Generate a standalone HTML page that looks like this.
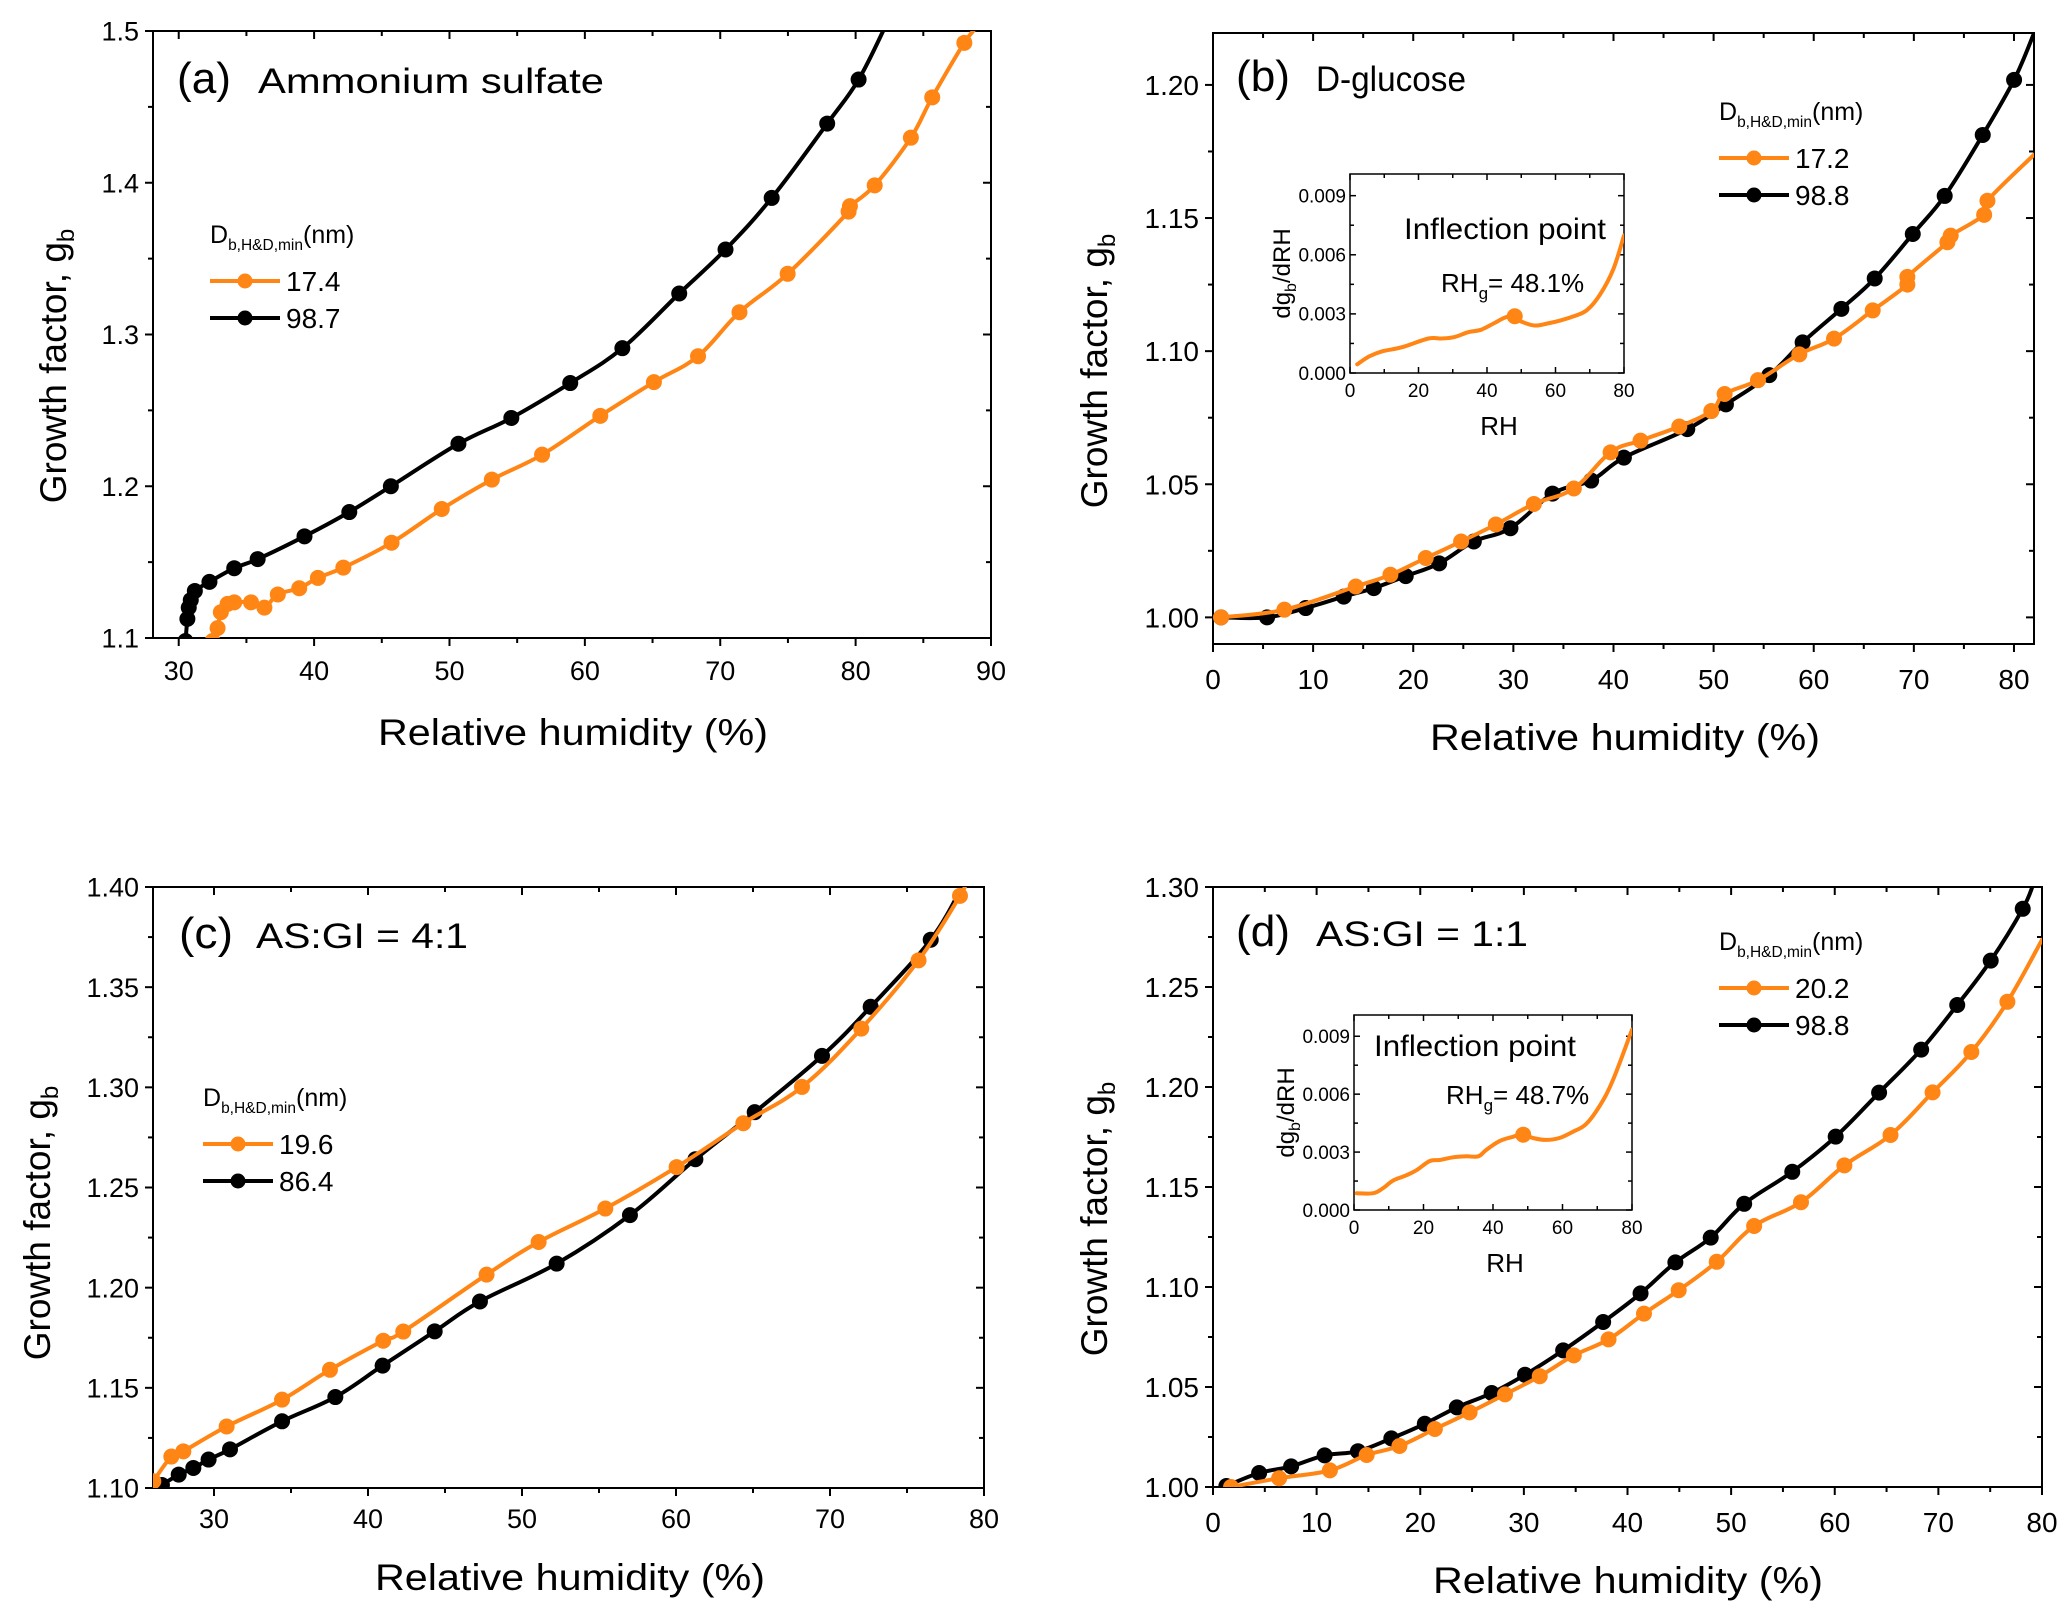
<!DOCTYPE html>
<html><head><meta charset="utf-8">
<style>
html,body{margin:0;padding:0;background:#fff;}
svg{display:block;font-family:"Liberation Sans",Arial,sans-serif;}
</style></head>
<body>
<svg id="fig" width="2067" height="1621" viewBox="0 0 2067 1621" xmlns="http://www.w3.org/2000/svg"></svg>
<script>
// ---------- DATA ----------
// Panel (a) Ammonium sulfate
const aBlackX=[30.5,30.64,30.74,30.89,31.19,32.27,34.10,35.83,39.29,42.60,45.67,50.66,54.57,58.92,62.77,66.97,70.39,73.80,77.90,80.22,82.3];
const aBlackY=[1.098,1.1126,1.120,1.125,1.131,1.137,1.146,1.152,1.167,1.183,1.200,1.228,1.245,1.268,1.291,1.327,1.356,1.390,1.439,1.468,1.505];
const aOrangeX=[32.5,32.87,33.11,33.61,34.10,35.34,36.33,37.32,38.90,40.28,42.16,45.72,49.43,53.13,56.84,61.14,65.10,68.36,71.42,74.98,79.48,79.58,81.41,84.08,85.66,88.03,89.2];
const aOrangeY=[1.098,1.1065,1.117,1.1225,1.1235,1.1235,1.120,1.1287,1.1328,1.1396,1.1464,1.1628,1.185,1.2044,1.2208,1.2464,1.2686,1.2857,1.3147,1.340,1.381,1.3846,1.3983,1.4297,1.4563,1.4922,1.505];
// Panel (b) D-glucose
const bBlackX=[0.8,5.4,9.26,13.06,16.06,19.25,22.59,26.05,29.71,33.91,37.77,41.04,47.37,51.23,55.56,58.89,62.76,66.09,69.89,73.08,76.88,80.01,82.0];
const bBlackY=[1.000,1.000,1.0035,1.0078,1.011,1.0155,1.0203,1.0285,1.0335,1.0465,1.0514,1.060,1.0707,1.080,1.091,1.1033,1.1159,1.1273,1.144,1.1583,1.1812,1.2019,1.2194];
const bOrangeX=[0.8,7.13,14.26,17.72,21.25,24.78,28.25,32.05,36.04,39.71,42.7,46.57,49.77,51.1,54.43,58.56,62.03,65.89,69.35,69.35,73.35,73.68,77.02,77.35,82.0];
const bOrangeY=[1.000,1.0029,1.0116,1.016,1.0223,1.0285,1.0349,1.0426,1.0484,1.062,1.0664,1.0717,1.0775,1.0839,1.0891,1.0988,1.1047,1.1153,1.125,1.1279,1.1409,1.1434,1.1512,1.1565,1.1738];
const bInsetX=[2.1,5.6,9.4,15.2,22.9,26.8,30.6,34.5,38.3,42.2,45.1,47.4,49.9,53.8,57.6,61.5,65.3,69.2,73.0,76.9,80];
const bInsetY=[0.00044,0.00084,0.00110,0.00131,0.00175,0.00175,0.00183,0.00207,0.00220,0.00254,0.00280,0.00288,0.00262,0.00241,0.00251,0.00267,0.00288,0.00319,0.00398,0.00528,0.00698];
const bInflection=[48.1,0.00288];
// Panel (c) AS:GI = 4:1
const cBlackX=[26.1,26.62,27.71,28.66,29.65,31.04,34.42,37.88,40.95,44.33,47.27,52.25,57.01,61.26,65.11,69.48,72.64,76.54,78.7];
const cBlackY=[1.099,1.1015,1.1067,1.110,1.1142,1.1193,1.1333,1.1454,1.1611,1.1782,1.1931,1.212,1.2362,1.2641,1.2876,1.3157,1.3402,1.3737,1.402];
const cOrangeX=[26.06,27.23,28.01,30.82,34.42,37.53,40.99,42.29,47.7,51.08,55.41,60.04,64.37,68.18,72.03,75.75,78.44,78.8];
const cOrangeY=[1.1034,1.1157,1.1183,1.1307,1.1441,1.159,1.1735,1.1781,1.2065,1.2228,1.2395,1.2602,1.2821,1.3002,1.3293,1.3634,1.3956,1.402];
// Panel (d) AS:GI = 1:1
const dBlackX=[1.29,4.45,7.54,10.77,13.99,17.21,20.44,23.53,26.89,30.11,33.79,37.65,41.26,44.62,48.03,51.26,55.9,60.09,64.28,68.34,71.82,75.05,78.14,79.2];
const dBlackY=[1.0005,1.007,1.0103,1.0158,1.0179,1.0243,1.0316,1.0398,1.047,1.0561,1.0683,1.0825,1.0968,1.1123,1.1247,1.1416,1.1576,1.1752,1.1972,1.2187,1.241,1.2632,1.2891,1.302];
const dOrangeX=[1.74,6.38,11.28,14.83,17.99,21.41,24.76,28.18,31.53,34.82,38.17,41.59,44.94,48.61,52.22,56.74,60.93,65.38,69.44,73.18,76.66,80];
const dOrangeY=[1.000,1.0044,1.0083,1.016,1.0205,1.029,1.0373,1.0463,1.0554,1.0658,1.0738,1.0867,1.0984,1.1126,1.1305,1.1424,1.1608,1.1760,1.1973,1.2175,1.2426,1.2736];
const dInsetX=[0.77,5.55,8.42,11.29,15.12,17.99,21.82,24.69,28.52,32.34,35.79,38.09,41.91,45.74,48.61,51.48,55.31,59.14,62.97,66.79,70.62,74.45,80];
const dInsetY=[0.00087,0.00087,0.00114,0.00153,0.00180,0.00206,0.00254,0.00259,0.00273,0.00278,0.00278,0.00312,0.00357,0.00379,0.00392,0.00373,0.00363,0.00373,0.00405,0.00445,0.00537,0.00670,0.00934];
const dInflection=[48.7,0.0039];
// Legend labels & tick labels
const aLegend=["17.4","98.7"], bLegend=["17.2","98.8"], cLegend=["19.6","86.4"], dLegend=["20.2","98.8"];
const aXTicks=[30,40,50,60,70,80,90], aYTicks=["1.1","1.2","1.3","1.4","1.5"];
const bXTicks=[0,10,20,30,40,50,60,70,80], bYTicks=["1.00","1.05","1.10","1.15","1.20"];
const cXTicks=[30,40,50,60,70,80], cYTicks=["1.10","1.15","1.20","1.25","1.30","1.35","1.40"];
const dXTicks=[0,10,20,30,40,50,60,70,80], dYTicks=["1.00","1.05","1.10","1.15","1.20","1.25","1.30"];
const insetXTicks=[0,20,40,60,80], insetYTicks=["0.000","0.003","0.006","0.009"];

// ---------- DRAW ----------
const NS="http://www.w3.org/2000/svg";
const svg=document.getElementById('fig');
const ORANGE="#ff8514";
function mk(tag,attrs,parent){const e=document.createElementNS(NS,tag);for(const k in attrs)e.setAttribute(k,attrs[k]);(parent||svg).appendChild(e);return e;}
let clipN=0;

function smoothPath(pts){
  if(pts.length<3) return pts.map((p,i)=>(i?'L':'M')+p[0].toFixed(1)+' '+p[1].toFixed(1)).join(' ');
  let d='M'+pts[0][0].toFixed(1)+' '+pts[0][1].toFixed(1);
  const t=0.18;
  for(let i=0;i<pts.length-1;i++){
    const p0=pts[Math.max(0,i-1)],p1=pts[i],p2=pts[i+1],p3=pts[Math.min(pts.length-1,i+2)];
    const c1=[p1[0]+(p2[0]-p0[0])*t,p1[1]+(p2[1]-p0[1])*t];
    const c2=[p2[0]-(p3[0]-p1[0])*t,p2[1]-(p3[1]-p1[1])*t];
    d+=' C'+c1[0].toFixed(1)+' '+c1[1].toFixed(1)+' '+c2[0].toFixed(1)+' '+c2[1].toFixed(1)+' '+p2[0].toFixed(1)+' '+p2[1].toFixed(1);
  }
  return d;
}

function axes(p){
  const g=mk('g',{});
  
  
  const sx=v=>p.L+(v-p.x0)/(p.x1-p.x0)*(p.R-p.L);
  const sy=v=>p.B-(v-p.y0)/(p.y1-p.y0)*(p.B-p.T);
  const frame=mk('rect',{x:p.L,y:p.T,width:p.R-p.L,height:p.B-p.T,fill:'none',stroke:'#000','stroke-width':p.sw||2},g);
  
  
  const ML=p.tickLen||8, mL=p.minorLen||5, out=p.outward;
  for(let v=p.xStart; v<=p.x1+1e-9; v+=p.xMinor){
    const major=Math.abs(((v-p.xStart)/p.xMajor)-Math.round((v-p.xStart)/p.xMajor))<1e-6;
    const len=major?ML:mL, x=sx(v);
    if(out){mk('line',{x1:x,y1:p.B,x2:x,y2:p.B+len,stroke:'#000','stroke-width':2},g);}
    else{mk('line',{x1:x,y1:p.B,x2:x,y2:p.B-len,stroke:'#000','stroke-width':1.5},g);}
    mk('line',{x1:x,y1:p.T,x2:x,y2:p.T+len,stroke:'#000','stroke-width':out?2:1.5},g);
  }
  for(let v=p.yStart; v<=p.y1+1e-9; v+=p.yMinor){
    const major=Math.abs(((v-p.yStart)/p.yMajor)-Math.round((v-p.yStart)/p.yMajor))<1e-6;
    const len=major?ML:mL, y=sy(v);
    if(out){mk('line',{x1:p.L,y1:y,x2:p.L-len,y2:y,stroke:'#000','stroke-width':2},g);}
    else{mk('line',{x1:p.L,y1:y,x2:p.L+len,y2:y,stroke:'#000','stroke-width':1.5},g);}
    mk('line',{x1:p.R,y1:y,x2:p.R-len,y2:y,stroke:'#000','stroke-width':out?2:1.5},g);
  }
  p.xTicks.forEach(t=>{
    const tx=mk('text',{x:sx(+t),y:p.B+p.xLabOff,'font-size':p.tfs,'text-anchor':'middle'},g);
    tx.textContent=t;
    
    
  });
  p.yTicks.forEach(t=>{
    const ty=mk('text',{x:p.L-p.yLabOff,y:sy(+t)+p.tfs*0.36,'font-size':p.tfs,'text-anchor':'end'},g);
    ty.textContent=t;
    
    
  });
  clipN++;
  const cp=mk('clipPath',{id:'cp'+clipN},g);
  mk('rect',{x:p.L,y:p.T,width:p.R-p.L,height:p.B-p.T},cp);
  const plot=mk('g',{'clip-path':'url(#cp'+clipN+')'},g);
  
  
  return {g,plot,sx,sy};
}

function series(ax,xs,ys,color,name,r,lw,markers){
  const pts=xs.map((x,i)=>[ax.sx(x),ax.sy(ys[i])]);
  const path=mk('path',{d:smoothPath(pts),fill:'none',stroke:color,'stroke-width':lw,'stroke-linejoin':'round','stroke-linecap':'round'},ax.plot);
  
  
  if(markers){
    for(let i=0;i<xs.length-1;i++){
      const c=mk('circle',{cx:ax.sx(xs[i]),cy:ax.sy(ys[i]),r:r,fill:color},ax.plot);
      
      
    }
  }
}

function text(x,y,str,fs,opts){
  const t=mk('text',Object.assign({x:x,y:y,'font-size':fs},opts||{}));
  t.innerHTML=str;
  return t;
}

function legend(x,y,labels,fs){
  const g=mk('g',{});
  
  
  const t=mk('text',{x:x,y:y,'font-size':fs},g);
  t.innerHTML='D<tspan font-size="'+(fs*0.62)+'" dy="7">b,H&amp;D,min</tspan><tspan dy="-7">(nm)</tspan>';
  
  
  [ORANGE,'#000'].forEach((c,i)=>{
    const yy=y+38+i*37;
    const e=mk('g',{},g);
    
    
    mk('line',{x1:x,y1:yy,x2:x+70,y2:yy,stroke:c,'stroke-width':4},e);
    mk('circle',{cx:x+35,cy:yy,r:7.5,fill:c},e);
    const lt=mk('text',{x:x+76,y:yy+10,'font-size':fs+3},e);
    lt.textContent=labels[i];
  });
}

function titles(p,xc,xb,xLen,yx,yc,yLen,fs){
  const xt=text(xc,xb,'Relative humidity (%)',fs,{'text-anchor':'middle',textLength:xLen,lengthAdjust:'spacingAndGlyphs'});
  
  
  const yt=text(0,0,'Growth factor, g<tspan font-size="'+(fs*0.65)+'" dy="8">b</tspan>',fs,{'text-anchor':'middle',transform:'translate('+yx+','+yc+') rotate(-90)'});
  
  
}

function panelLabel(x,y,lab,w1,str,x2,w2){
  const a=text(x,y,lab,44,{textLength:w1,lengthAdjust:'spacingAndGlyphs'});
  
  
  const b=text(x2,y,str,35,{textLength:w2,lengthAdjust:'spacingAndGlyphs'});
  
  
}

function inset(L,R,T,B,xs,ys,infl,name,rhText,txtPos){
  const ax=axes({name:name,L:L,R:R,T:T,B:B,x0:0,x1:80,y0:0,y1:0.0101,xStart:0,xMajor:20,xMinor:10,yStart:0,yMajor:0.003,yMinor:0.0015,
    xTicks:insetXTicks,yTicks:insetYTicks,tfs:19,xLabOff:24,yLabOff:4,outward:false,tickLen:6,minorLen:4,sw:1.5});
  series(ax,xs,ys,ORANGE,name+'-curve',0,4,false);
  const c=mk('circle',{cx:ax.sx(infl[0]),cy:ax.sy(infl[1]),r:8,fill:ORANGE},ax.plot);
  
  
  const rh=text((L+R)/2+12,B+62,'RH',26,{'text-anchor':'middle'});
  
  
  const yl=text(0,0,'dg<tspan font-size="16" dy="6">b</tspan><tspan dy="-6">/dRH</tspan>',24,{'text-anchor':'middle',transform:'translate('+(L-60)+','+((T+B)/2)+') rotate(-90)'});
  
  
  const ip=text(txtPos[0],txtPos[1],'Inflection point',30,{textLength:202,lengthAdjust:'spacingAndGlyphs'});
  
  
  const rt=text(txtPos[2],txtPos[3],'RH<tspan font-size="17" dy="7">g</tspan><tspan dy="-7">= '+rhText+'</tspan>',26,{});
  
  
}

// Panel a
const A=axes({name:'panel-a',L:153,R:991,T:31,B:638,x0:28.1,x1:90,y0:1.1,y1:1.5,xStart:30,xMajor:10,xMinor:5,yStart:1.1,yMajor:0.1,yMinor:0.05,
  xTicks:aXTicks,yTicks:aYTicks,tfs:27,xLabOff:42,yLabOff:14,outward:true});
series(A,aBlackX,aBlackY,'#000','panel-a-98.7nm',8,4,true);
series(A,aOrangeX,aOrangeY,ORANGE,'panel-a-17.4nm',8,4,true);
titles(A,573,745,390,66,366,305,37);
panelLabel(177,93,'(a)',54,'Ammonium sulfate',258,346);
legend(210,243,aLegend,25);

// Panel b
const Bp=axes({name:'panel-b',L:1213,R:2034,T:33,B:644,x0:0,x1:82,y0:0.99,y1:1.2195,xStart:0,xMajor:10,xMinor:5,yStart:1.0,yMajor:0.05,yMinor:0.025,
  xTicks:bXTicks,yTicks:bYTicks,tfs:28,xLabOff:45,yLabOff:14,outward:true});
series(Bp,bBlackX,bBlackY,'#000','panel-b-98.8nm',8,4,true);
series(Bp,bOrangeX,bOrangeY,ORANGE,'panel-b-17.2nm',8,4,true);
titles(Bp,1625,750,390,1107,371,305,37);
panelLabel(1236,91,'(b)',54,'D-glucose',1316,150);
legend(1719,120,bLegend,25);
inset(1350,1624,174,373,bInsetX,bInsetY,bInflection,'panel-b-inset','48.1%',[1404,239,1441,292]);

// Panel c
const Cp=axes({name:'panel-c',L:153,R:984,T:887,B:1488,x0:26.04,x1:80,y0:1.1,y1:1.4,xStart:30,xMajor:10,xMinor:5,yStart:1.1,yMajor:0.05,yMinor:0.025,
  xTicks:cXTicks,yTicks:cYTicks,tfs:27,xLabOff:40,yLabOff:14,outward:true});
series(Cp,cBlackX,cBlackY,'#000','panel-c-86.4nm',8,4,true);
series(Cp,cOrangeX,cOrangeY,ORANGE,'panel-c-19.6nm',8,4,true);
titles(Cp,570,1590,390,50,1223,305,37);
panelLabel(179,948,'(c)',54,'AS:GI = 4:1',256,212);
legend(203,1106,cLegend,25);

// Panel d
const Dp=axes({name:'panel-d',L:1213,R:2042,T:887,B:1487,x0:0,x1:80,y0:1.0,y1:1.3,xStart:0,xMajor:10,xMinor:5,yStart:1.0,yMajor:0.05,yMinor:0.025,
  xTicks:dXTicks,yTicks:dYTicks,tfs:28,xLabOff:45,yLabOff:14,outward:true});
series(Dp,dBlackX,dBlackY,'#000','panel-d-98.8nm',8,4,true);
series(Dp,dOrangeX,dOrangeY,ORANGE,'panel-d-20.2nm',8,4,true);
titles(Dp,1628,1593,390,1107,1219,305,37);
panelLabel(1236,946,'(d)',54,'AS:GI = 1:1',1316,212);
legend(1719,950,dLegend,25);
inset(1354,1632,1015,1210,dInsetX,dInsetY,dInflection,'panel-d-inset','48.7%',[1374,1056,1446,1104]);
</script>
</body></html>
